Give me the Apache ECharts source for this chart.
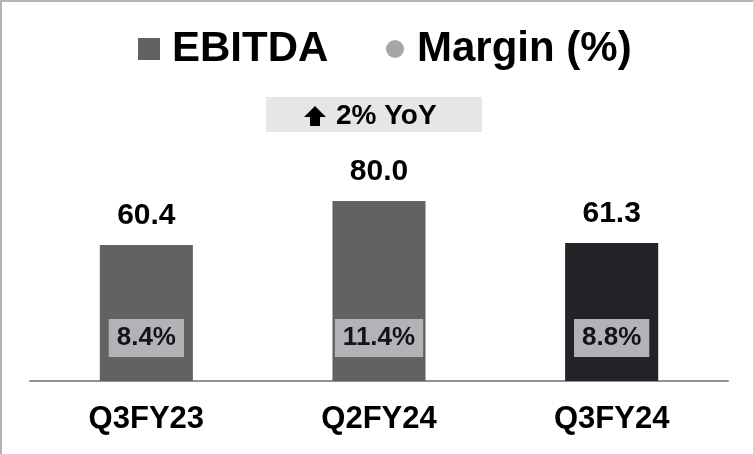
<!DOCTYPE html>
<html>
<head>
<meta charset="utf-8">
<style>
  html, body { margin: 0; padding: 0; background: #fff; }
  #chart { width: 753px; height: 454px; }
</style>
<script src="https://cdn.jsdelivr.net/npm/echarts@6/dist/echarts.min.js"></script>
</head>
<body>
<div id="chart"></div>
<script>
  var categories = ['Q3FY23', 'Q2FY24', 'Q3FY24']
  var ebitda = [60.4, 80.0, 61.3]
  var margin = [8.4, 11.4, 8.8]
  var yoyText = '2% YoY'

  var font = '"Liberation Sans", Arial, sans-serif'

  var chart = echarts.init(document.getElementById('chart'))
  chart.setOption({
    backgroundColor: '#fff',
    animation: false,
    textStyle: { fontFamily: font },
    legend: [{
      data: [{ name: 'EBITDA', icon: 'rect', itemStyle: { color: '#626262' } }],
      left: 138,
      top: 28,
      padding: 0,
      itemWidth: 22,
      itemHeight: 22,
      textStyle: { fontSize: 42, fontWeight: 'bold', color: '#000', padding: [0, 0, 0, 7] }
    }, {
      data: [{ name: 'Margin (%)', icon: 'circle', itemStyle: { color: '#a6a6a6' } }],
      left: 386,
      top: 28,
      padding: 0,
      itemWidth: 18,
      itemHeight: 18,
      textStyle: { fontSize: 42, fontWeight: 'bold', color: '#000', padding: [0, 0, 0, 8] }
    }],
    grid: {
      left: 30,
      right: 25,
      top: 156,
      bottom: 73
    },
    xAxis: {
      type: 'category',
      data: categories,
      axisTick: { show: false },
      axisLine: { lineStyle: { color: '#8f9198', width: 2 } },
      axisLabel: {
        margin: 23,
        fontSize: 31,
        fontWeight: 'bold',
        color: '#000'
      }
    },
    yAxis: {
      type: 'value',
      min: 0,
      max: 100,
      show: false
    },
    graphic: [
      // rahmen oben/links
      { type: 'rect', shape: { x: 0, y: 0, width: 753, height: 2 }, style: { fill: '#b3b4ba' } },
      { type: 'rect', shape: { x: 0, y: 0, width: 2, height: 454 }, style: { fill: '#b3b4ba' } },
      // YoY box
      { type: 'rect', shape: { x: 266, y: 97, width: 216, height: 35 }, style: { fill: '#e6e6e6' } },
      {
        type: 'polygon',
        shape: { points: [[315, 106], [326, 117], [320, 117], [320, 126], [310, 126], [310, 117], [304, 117]] },
        style: { fill: '#000' }
      },
      {
        type: 'text',
        x: 336,
        y: 116,
        style: {
          text: yoyText,
          font: 'bold 28px ' + font,
          fill: '#000',
          align: 'left',
          verticalAlign: 'middle'
        }
      }
    ],
    series: [{
      name: 'EBITDA',
      type: 'bar',
      barWidth: '40%',
      data: ebitda,
      itemStyle: {
        color: function (p) {
          return p.dataIndex === categories.length - 1 ? '#222326' : '#626262'
        }
      },
      label: {
        show: true,
        position: 'top',
        distance: 14,
        fontSize: 30,
        fontWeight: 'bold',
        color: '#000',
        formatter: function (p) { return p.value.toFixed(1) }
      }
    }, {
      name: 'Margin (%)',
      type: 'bar',
      barWidth: '40%',
      barGap: '-100%',
      data: margin,
      itemStyle: { color: 'rgba(0,0,0,0)' },
      label: {
        show: true,
        position: 'insideBottom',
        distance: 24,
        fontSize: 26,
        fontWeight: 'bold',
        color: '#141414',
        backgroundColor: '#b1b3b6',
        padding: [6, 8, 6, 8],
        formatter: function (p) { return p.value.toFixed(1) + '%' }
      }
    }]
  })
</script>
</body>
</html>
